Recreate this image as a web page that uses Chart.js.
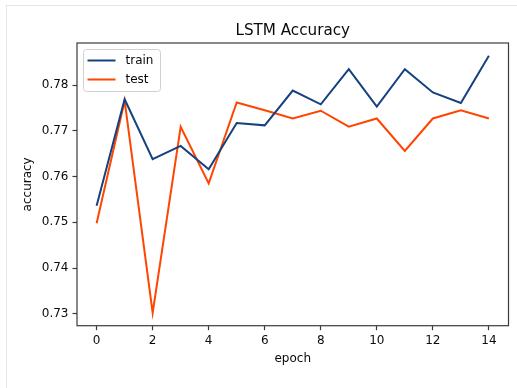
<!DOCTYPE html>
<html>
<head>
<meta charset="utf-8">
<script src="https://cdn.jsdelivr.net/npm/chart.js@4/dist/chart.umd.min.js"></script>
<style>
  html, body { margin: 0; padding: 0; background: #fff; }
  #wrap { position: relative; width: 517px; height: 388px; overflow: hidden; }
  #frame { position: absolute; left: 6px; top: 5px; right: -2px; bottom: -2px;
           border-top: 1px solid #e4e4e4; border-left: 1px solid #e4e4e4; }
  canvas { position: absolute; left: 0; top: 0; }
</style>
</head>
<body>
<div id="wrap">
  <div id="frame"></div>
  <canvas id="chart" width="517" height="388"></canvas>
</div>
<script>
// Accuracy per epoch
const epochs = [0, 1, 2, 3, 4, 5, 6, 7, 8, 9, 10, 11, 12, 13, 14];
const trainAcc = [0.7536, 0.7769, 0.7638, 0.7667, 0.7616, 0.7717, 0.7712, 0.7788,
                  0.7758, 0.7835, 0.7753, 0.7835, 0.7784, 0.7761, 0.7864];
const testAcc  = [0.7498, 0.7766, 0.7302, 0.7709, 0.7585, 0.7762, 0.7745, 0.7727,
                  0.7744, 0.7709, 0.7727, 0.7656, 0.7727, 0.7745, 0.7727];
const xTicks = [0, 2, 4, 6, 8, 10, 12, 14];
const yTicks = [0.73, 0.74, 0.75, 0.76, 0.77, 0.78];

const chartTitle = 'LSTM Accuracy';
const xLabel = 'epoch';
const yLabel = 'accuracy';

const FONT = '"DejaVu Sans", sans-serif';
const INK = '#0a0a0a';

// Axis limits with a 5% margin around the data, like matplotlib's autoscale
function padded(values, frac) {
  const lo = Math.min(...values), hi = Math.max(...values);
  const m = (hi - lo) * frac;
  return [lo - m, hi + m];
}
const [xMin, xMax] = padded(epochs, 0.05);
const [yMin, yMax] = padded(trainAcc.concat(testAcc), 0.05);

const frameAndText = {
  id: 'frameAndText',
  afterDraw(chart) {
    const { ctx, chartArea: a } = chart;
    ctx.save();
    // full box around the plotting area
    ctx.strokeStyle = '#3a3a3a';
    ctx.lineWidth = 1.2;
    ctx.strokeRect(a.left, a.top, a.right - a.left, a.bottom - a.top);

    ctx.fillStyle = INK;
    ctx.textAlign = 'center';
    ctx.textBaseline = 'middle';
    const cx = (a.left + a.right) / 2;
    ctx.font = '15.2px ' + FONT;
    ctx.fillText(chartTitle, cx, a.top - 11.5);
    ctx.font = '12px ' + FONT;
    ctx.fillText(xLabel, cx, 359);
    ctx.translate(28, (a.top + a.bottom) / 2);
    ctx.rotate(-Math.PI / 2);
    ctx.fillText(yLabel, 0, 0);
    ctx.restore();

    // legend in the upper left corner
    ctx.save();
    const lx = a.left + 6.5, ly = a.top + 6.5, lw = 77, lh = 42, r = 3;
    ctx.beginPath();
    ctx.moveTo(lx + r, ly);
    ctx.arcTo(lx + lw, ly, lx + lw, ly + lh, r);
    ctx.arcTo(lx + lw, ly + lh, lx, ly + lh, r);
    ctx.arcTo(lx, ly + lh, lx, ly, r);
    ctx.arcTo(lx, ly, lx + lw, ly, r);
    ctx.closePath();
    ctx.fillStyle = 'rgba(255,255,255,0.8)';
    ctx.fill();
    ctx.strokeStyle = '#d0d0d0';
    ctx.lineWidth = 1;
    ctx.stroke();
    ctx.font = '12px ' + FONT;
    ctx.textAlign = 'left';
    ctx.textBaseline = 'middle';
    chart.data.datasets.forEach((ds, i) => {
      const y = ly + 11 + i * 19;
      ctx.strokeStyle = ds.borderColor;
      ctx.lineWidth = 2;
      ctx.beginPath();
      ctx.moveTo(lx + 4, y);
      ctx.lineTo(lx + 32, y);
      ctx.stroke();
      ctx.fillStyle = INK;
      ctx.fillText(ds.label, lx + 42, y);
    });
    ctx.restore();
  }
};

const series = (vals) => epochs.map((e, i) => ({ x: e, y: vals[i] }));

new Chart(document.getElementById('chart'), {
  type: 'line',
  data: {
    datasets: [
      { label: 'train', data: series(trainAcc), borderColor: '#15427f', borderWidth: 2,
        pointRadius: 0, tension: 0, fill: false },
      { label: 'test', data: series(testAcc), borderColor: '#ff4500', borderWidth: 2,
        pointRadius: 0, tension: 0, fill: false }
    ]
  },
  options: {
    responsive: false,
    animation: false,
    events: [],
    layout: { padding: { left: 0, right: 8.5, top: 43, bottom: 0 } },
    plugins: { legend: { display: false }, tooltip: { enabled: false }, title: { display: false } },
    scales: {
      x: {
        type: 'linear',
        min: xMin, max: xMax,
        afterBuildTicks(s) { s.ticks = xTicks.map(v => ({ value: v })); },
        afterFit(s) { s.height = 62.3; },
        grid: { drawOnChartArea: false, drawTicks: true, tickLength: 4.5, color: '#3a3a3a', tickWidth: 1.2 },
        border: { display: false },
        ticks: { padding: 3, color: INK, font: { family: FONT, size: 12 }, maxRotation: 0,
                 autoSkip: false, callback: v => String(v) }
      },
      y: {
        type: 'linear',
        min: yMin, max: yMax,
        afterBuildTicks(s) { s.ticks = yTicks.map(v => ({ value: v })); },
        afterFit(s) { s.width = 77; },
        grid: { drawOnChartArea: false, drawTicks: true, tickLength: 4.5, color: '#3a3a3a', tickWidth: 1.2 },
        border: { display: false },
        ticks: { padding: 4, color: INK, font: { family: FONT, size: 12 },
                 autoSkip: false, callback: v => Number(v).toFixed(2) }
      }
    }
  },
  plugins: [frameAndText]
});
</script>
</body>
</html>
